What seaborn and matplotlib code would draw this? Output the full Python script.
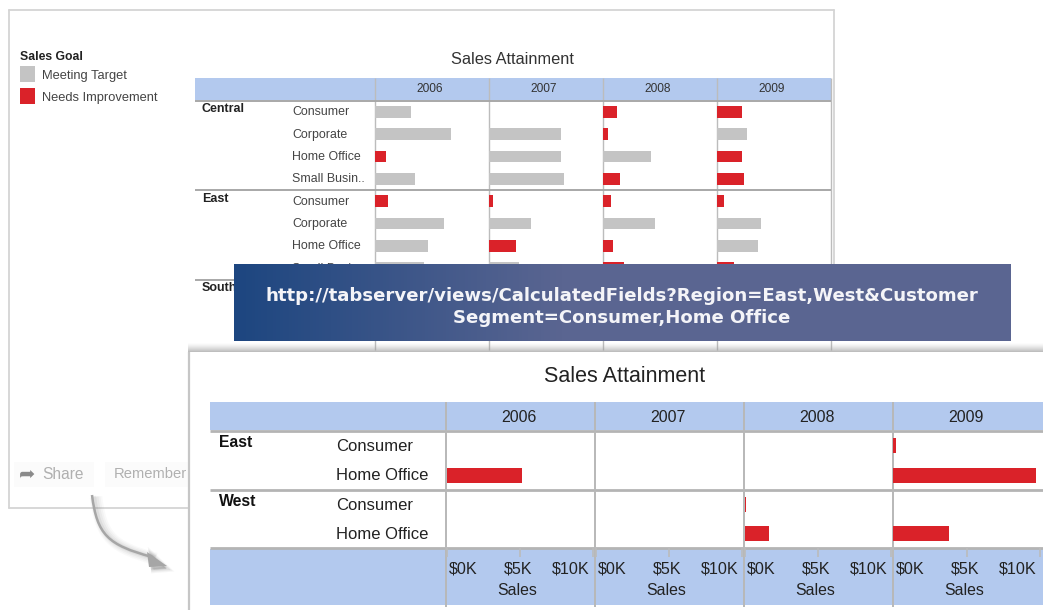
import numpy as np
import pandas as pd
import matplotlib
matplotlib.use("Agg")
import matplotlib.pyplot as plt
from matplotlib.patches import Rectangle, PathPatch
from matplotlib.path import Path
from matplotlib.colors import to_rgb
import seaborn as sns

sns.set_theme(style="white")
plt.rcParams['font.family'] = ['Liberation Sans', 'DejaVu Sans']

W, H = 1043, 610

# ---------- data ($K) ----------
YEARS = [2006, 2007, 2008, 2009]
GOALS = ["Meeting Target", "Needs Improvement"]
BACK_REGIONS = ["Central", "East", "South"]
BACK_ROWS = ["Central|Consumer", "Central|Corporate", "Central|Home Office", "Central|Small Busin..",
             "East|Consumer", "East|Corporate", "East|Home Office", "East|Small Busin..",
             "South|Consumer", "South|Corporate", "South|Home Office"]
back_2006 = [3.2, 6.8, 1.0, 3.6, 1.15, 6.2, 4.75, 4.4, None, None, 2.15]
back_2007 = [None, 6.4, 6.4, 6.7, 0.32, 3.8, 2.4, 2.7, None, None, None]
back_2008 = [1.3, 0.48, 4.3, 1.5, 0.74, 4.7, 0.9, 1.9, None, None, 2.4]
back_2009 = [2.25, 2.7, 2.3, 2.5, 0.7, 4.0, 3.7, 1.6, None, None, None]
goal_2006 = [0, 0, 1, 0, 1, 0, 0, 0, 0, 0, 1]
goal_2007 = [0, 0, 0, 0, 1, 0, 1, 0, 0, 0, 0]
goal_2008 = [1, 1, 0, 1, 1, 0, 1, 1, 0, 0, 1]
goal_2009 = [1, 0, 1, 1, 1, 0, 0, 1, 0, 0, 0]

FRONT_ROWS = ["East|Consumer", "East|Home Office", "West|Consumer", "West|Home Office"]
front_2006 = [None, 5.2, None, None]
front_2007 = [None, None, None, None]
front_2008 = [None, None, 0.12, 1.7]
front_2009 = [0.15, 9.75, None, 3.8]
TICKS = [0, 5, 10]
TICK_LABELS = ["$0K", "$5K", "$10K"]

TITLE = "Sales Attainment"
URL_TEXT = "http://tabserver/views/CalculatedFields?Region=East,West&Customer\nSegment=Consumer,Home Office"

# ---------- styles ----------
RED = "#da2229"
GREY = "#c4c4c4"
BLUE = "#b3c9ee"
LINE = "#bcbcbc"
TXT = "#333333"
palette = {GOALS[0]: GREY, GOALS[1]: RED}

back_rows_df = []
for yr, vals, gl in zip(YEARS, [back_2006, back_2007, back_2008, back_2009],
                        [goal_2006, goal_2007, goal_2008, goal_2009]):
    for r, v, g in zip(BACK_ROWS, vals, gl):
        if v is not None:
            back_rows_df.append(dict(year=yr, row=r, sales=v, goal=GOALS[g]))
back_df = pd.DataFrame(back_rows_df)

front_rows_df = []
for yr, vals in zip(YEARS, [front_2006, front_2007, front_2008, front_2009]):
    for r, v in zip(FRONT_ROWS, vals):
        if v is not None:
            front_rows_df.append(dict(year=yr, row=r, sales=v, goal=GOALS[1]))
front_df = pd.DataFrame(front_rows_df)

fig = plt.figure(figsize=(W / 100, H / 100), dpi=100, facecolor="white")


def px_axes(x0, y0, x1, y1, z):
    ax = fig.add_axes([x0 / W, 1 - y1 / H, (x1 - x0) / W, (y1 - y0) / H], zorder=z)
    ax.patch.set_alpha(0)
    return ax


def overlay(z):
    ax = fig.add_axes([0, 0, 1, 1], zorder=z)
    ax.patch.set_alpha(0)
    ax.set_xlim(0, W)
    ax.set_ylim(H, 0)
    ax.axis("off")
    return ax


def rect(ax, x0, y0, x1, y1, c, **kw):
    ax.add_patch(Rectangle((x0, y0), x1 - x0, y1 - y0, fc=c, ec="none", **kw))


def hl(ax, x0, x1, y, c=LINE, lw=1.5):
    ax.plot([x0, x1], [y, y], color=c, lw=lw, solid_capstyle="butt")


def vl(ax, x, y0, y1, c=LINE, lw=1.2):
    ax.plot([x, x], [y0, y1], color=c, lw=lw, solid_capstyle="butt")


# ---------- back sheet ----------
bg = overlay(0)
for xs, ys in [((9, 834), (10, 10)), ((9, 9), (10, 508)), ((834, 834), (10, 264)), ((9, 189), (508, 508))]:
    bg.plot(xs, ys, color="#d4d4d4", lw=1.3)

bg.text(20, 56.5, "Sales Goal", fontsize=8.8, fontweight="bold", color="#222222", va="center")
for y, goal, c in zip([74, 96], GOALS, [GREY, RED]):
    rect(bg, 19.5, y - 8, 34.5, y + 8, c)
    bg.text(42, y + 1.5, goal, fontsize=9.3, color="#444444", va="center")

bg.text(512, 59, TITLE, fontsize=11.8, color="#333333", ha="center", va="center")
BACK_EDGES = [375, 489, 603, 716.5, 830.5]
rect(bg, 195, 78, 831, 100, BLUE)
for x0, x1, yr in zip(BACK_EDGES[:-1], BACK_EDGES[1:], YEARS):
    bg.text((x0 + x1) / 2 - 2, 89.5, str(yr), fontsize=8.6, color=TXT, ha="center", va="center")
for x in BACK_EDGES:
    vl(bg, x, 78, 350, LINE, 1.0)
for y in [100.5, 189.5, 279.5]:
    hl(bg, 195, 831, y, "#a8a8a8", 1.4)

for r, y in zip(BACK_REGIONS, [108.5, 198.5, 288]):
    bg.text(202, y, r, fontsize=9.0, fontweight="bold", color="#222222", va="center")
for i, row in enumerate(BACK_ROWS):
    if row not in ("South|Consumer", "South|Corporate"):  # fully under the banner
        bg.text(292, 112.3 + 22.33 * i, row.split("|")[1], fontsize=8.9, color="#444444", va="center")

for x0, x1, yr in zip(BACK_EDGES[:-1], BACK_EDGES[1:], YEARS):
    ax = px_axes(x0, 101, x1, 348, 1)
    d = back_df[back_df.year == yr]
    sns.barplot(data=d, y="row", x="sales", hue="goal", order=BACK_ROWS, hue_order=GOALS,
                palette=palette, dodge=False, width=0.52, orient="h", errorbar=None,
                legend=False, saturation=1, linewidth=0, ax=ax)
    ax.set_xlim(0, 10.2)
    ax.set_ylim(10.58, -0.479)
    ax.axis("off")

# ---------- covering layer: banner, share row, arrow, front sheet ----------
cv = overlay(2)
rect(cv, 14, 462, 94, 487, "#fbfbfb")
rect(cv, 105, 462, 189, 487, "#fbfbfb")
cv.text(27, 474.5, "\u27A6", fontsize=14, color="#8a8a8a", ha="center", va="center",
        family=["DejaVu Sans"])
cv.text(42, 474.5, "Share", fontsize=11.2, color="#b0b0b0", va="center")
cv.text(114, 474.5, "Remember", fontsize=10.6, color="#b0b0b0", va="center")

# arrow with soft shadow
verts = [(92, 495), (97, 535), (108, 545), (152, 557)]
codes = [Path.MOVETO, Path.CURVE4, Path.CURVE4, Path.CURVE4]
for off, lw, a in [(4, 9, 0.04), (3.5, 7, 0.05), (3, 5, 0.07), (2, 3, 0.10)]:
    cv.add_patch(PathPatch(Path([(x + off, y + off / 2) for x, y in verts], codes),
                           fc="none", ec="#777777", lw=lw, alpha=a))
    cv.fill([148 + off, 165 + off / 2, 150 + off], [553 + off / 2, 567 + off / 2, 568 + off / 2],
            color="#777777", alpha=a * 1.5, lw=lw / 2)
cv.add_patch(PathPatch(Path(verts, codes), fc="none", ec="#a6a6a6", lw=1.8))
cv.fill([147, 167, 149], [552, 566, 567], color="#a6a6a6", lw=0)

# front sheet
rect(cv, 189, 352, W, H, "white")
vl(cv, 189, 352, H, "#c6c6c6", 1.6)

# top shadow of front sheet
grad = np.zeros((10, 1, 4))
grad[..., :3] = 0.62
grad[:, 0, 3] = np.linspace(0.0, 0.75, 10) ** 1.4
cv.imshow(grad, extent=(188, W, 352.5, 342.5), aspect="auto", zorder=3, interpolation="bilinear")

# banner
c0, c1 = np.array(to_rgb("#1d4680")), np.array(to_rgb("#5a6591"))
t = np.clip(np.linspace(0, 1, 256) / 0.42, 0, 1)[None, :, None]
cv.imshow(c0[None, None, :] * (1 - t) + c1[None, None, :] * t,
          extent=(234, 1011, 341, 264), aspect="auto", zorder=4)
cv.set_xlim(0, W)
cv.set_ylim(H, 0)
cv.text(621.5, 307, URL_TEXT, color="#f4f4f8", fontsize=13.1, fontweight="bold", ha="center", va="center",
        family=["DejaVu Sans"], linespacing=1.3, zorder=5)

cv.text(625, 377, TITLE, fontsize=15.5, color="#222222", ha="center", va="center")
FRONT_EDGES = [446, 595, 744, 893, 1043]
rect(cv, 210, 402, W, 430, BLUE)
rect(cv, 210, 549, W, 605, BLUE)
for y in [430.5, 489.5, 547.5]:
    hl(cv, 210, W, y, "#b4b4b4", 2.0)
for x in FRONT_EDGES[:-1]:
    vl(cv, x, 402, 607, "#b8b8b8", 1.4)
for x0, x1, yr in zip(FRONT_EDGES[:-1], FRONT_EDGES[1:], YEARS):
    cv.text((x0 + x1) / 2 - 2, 417, str(yr), fontsize=11.5, color="#222222", ha="center", va="center")
for r, y in zip(["East", "West"], [442.5, 501]):
    cv.text(219, y, r, fontsize=11.3, fontweight="bold", color="#111111", va="center")
for i, row in enumerate(FRONT_ROWS):
    cv.text(336.5, 446.5 + 29.3 * i, row.split("|")[1], fontsize=12, color="#222222", va="center")

for x0, x1, yr in zip(FRONT_EDGES[:-1], FRONT_EDGES[1:], YEARS):
    ax = px_axes(x0 + 0.5, 431, x0 + 149.5, 547, 3)
    d = front_df[front_df.year == yr]
    sns.barplot(data=d, y="row", x="sales", hue="goal", order=FRONT_ROWS, hue_order=GOALS,
                palette=palette, dodge=False, width=0.51, orient="h", errorbar=None,
                legend=False, saturation=1, linewidth=0, ax=ax)
    ax.set_xlim(0, 10.2)
    ax.set_ylim(3.45, -0.51)
    for s in ax.spines.values():
        s.set_visible(False)
    ax.set_yticks([])
    ax.set_ylabel("")
    ax.set_xticks(TICKS)
    ax.set_xticklabels([])
    for tick, lab, ha, dx in zip(TICKS, TICK_LABELS, ["left", "center", "right"], [2, -1, -3]):
        ax.annotate(lab, (tick, 0), xycoords=ax.get_xaxis_transform(),
                    xytext=(dx * 0.72, -15.5), textcoords="offset points",
                    ha=ha, va="center", fontsize=11.6, color="#222222", annotation_clip=False)
    ax.tick_params(axis="x", length=7, width=1.2, color="#bbbbbb", bottom=True)
    ax.set_xlabel("Sales", fontsize=11.4, color="#222222")
    ax.xaxis.set_label_coords(0.473, -0.31)

fig.savefig("out.png", dpi=100)
